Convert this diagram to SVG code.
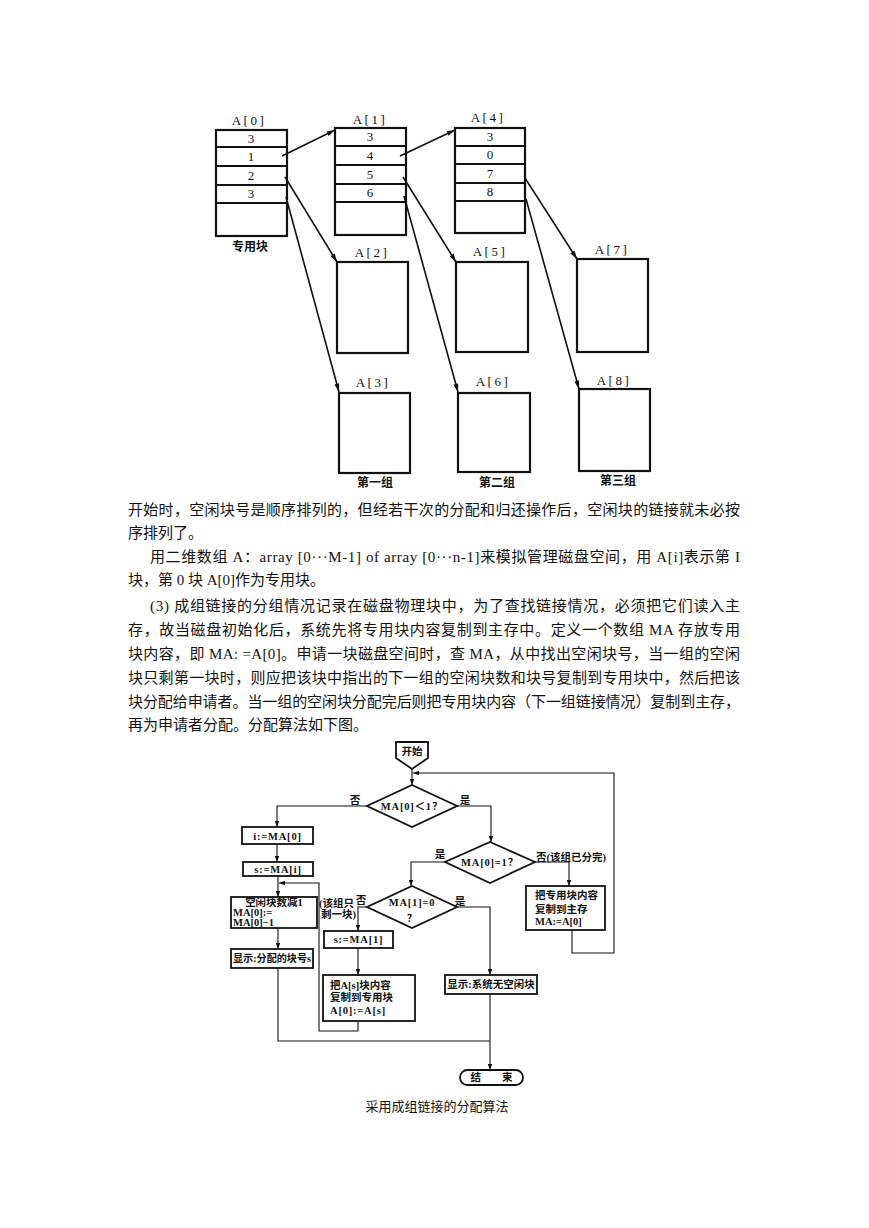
<svg xmlns="http://www.w3.org/2000/svg" width="869" height="1228" viewBox="0 0 869 1228">
<defs>
<marker id="ah" viewBox="0 0 10 6" refX="10" refY="3" markerWidth="9" markerHeight="5" orient="auto" markerUnits="userSpaceOnUse"><path d="M0,0 L10,3 L0,6 Z" fill="#111"/></marker>
<marker id="fa" viewBox="0 0 8 6" refX="8" refY="3" markerWidth="6" markerHeight="4.5" orient="auto" markerUnits="userSpaceOnUse"><path d="M0,0 L8,3 L0,6 Z" fill="#111"/></marker>
<style>
.blk{fill:#fff;stroke:#111;stroke-width:2.2}
.row{stroke:#111;stroke-width:2}
.num{font-family:"Liberation Serif","Noto Sans CJK SC",serif;font-size:13px;fill:#111;text-anchor:middle}
.lbl{font-family:"Liberation Serif","Noto Sans CJK SC",serif;font-size:13px;fill:#111;text-anchor:middle;letter-spacing:2.5px}
.cap{font-family:"Noto Sans CJK SC",sans-serif;font-size:12px;font-weight:bold;fill:#111;text-anchor:middle}
.link{stroke:#111;stroke-width:1.6;fill:none;marker-end:url(#ah)}
.body{font-family:"Liberation Serif","Noto Sans CJK SC",serif;font-size:15px;fill:#111}
.fb{fill:#fff;stroke:#111;stroke-width:1.8}
.fl{stroke:#111;stroke-width:1.1;fill:none}
.fla{stroke:#111;stroke-width:1.1;fill:none;marker-end:url(#fa)}
.ft{font-family:"Liberation Serif","Noto Sans CJK SC",serif;font-size:10.5px;font-weight:bold;fill:#111}
.fc{text-anchor:middle}
.capt{font-family:"Noto Sans CJK SC",sans-serif;font-size:13px;fill:#111;text-anchor:middle}
</style>
</defs>

<!-- top diagram -->
<g id="A0">
<rect class="blk" x="216" y="130" width="71" height="106"/>
<line class="row" x1="216" y1="147" x2="287" y2="147"/>
<line class="row" x1="216" y1="166" x2="287" y2="166"/>
<line class="row" x1="216" y1="185" x2="287" y2="185"/>
<line class="row" x1="216" y1="203" x2="287" y2="203"/>
<text class="num" x="251" y="143">3</text>
<text class="num" x="251" y="161">1</text>
<text class="num" x="251" y="180">2</text>
<text class="num" x="251" y="198">3</text>
<text class="lbl" x="249" y="125">A[0]</text>
<text class="cap" x="250" y="251">专用块</text>
</g>
<g id="A1">
<rect class="blk" x="335" y="128" width="71" height="107"/>
<line class="row" x1="335" y1="146" x2="406" y2="146"/>
<line class="row" x1="335" y1="165" x2="406" y2="165"/>
<line class="row" x1="335" y1="184" x2="406" y2="184"/>
<line class="row" x1="335" y1="202" x2="406" y2="202"/>
<text class="num" x="370" y="141">3</text>
<text class="num" x="370" y="160">4</text>
<text class="num" x="370" y="179">5</text>
<text class="num" x="370" y="197">6</text>
<text class="lbl" x="370" y="124">A[1]</text>
</g>
<g id="A4">
<rect class="blk" x="455" y="128" width="70" height="105"/>
<line class="row" x1="455" y1="146" x2="525" y2="146"/>
<line class="row" x1="455" y1="164" x2="525" y2="164"/>
<line class="row" x1="455" y1="183" x2="525" y2="183"/>
<line class="row" x1="455" y1="201" x2="525" y2="201"/>
<text class="num" x="490" y="141">3</text>
<text class="num" x="490" y="159">0</text>
<text class="num" x="490" y="178">7</text>
<text class="num" x="490" y="196">8</text>
<text class="lbl" x="488" y="122">A[4]</text>
</g>
<g id="A2"><rect class="blk" x="337" y="262" width="71" height="91"/><text class="lbl" x="372" y="257">A[2]</text></g>
<g id="A5"><rect class="blk" x="456" y="262" width="72" height="90"/><text class="lbl" x="490" y="256">A[5]</text></g>
<g id="A7"><rect class="blk" x="577" y="259" width="71" height="93"/><text class="lbl" x="612" y="254">A[7]</text></g>
<g id="A3"><rect class="blk" x="339" y="393" width="71" height="80"/><text class="lbl" x="373" y="387">A[3]</text><text class="cap" x="375" y="487">第一组</text></g>
<g id="A6"><rect class="blk" x="458" y="393" width="72" height="79"/><text class="lbl" x="493" y="386">A[6]</text><text class="cap" x="497" y="487">第二组</text></g>
<g id="A8"><rect class="blk" x="579" y="389" width="71" height="82"/><text class="lbl" x="614" y="385">A[8]</text><text class="cap" x="618" y="485">第三组</text></g>

<g id="links">
<line class="link" x1="282" y1="156" x2="335" y2="130"/>
<line class="link" x1="400" y1="156" x2="455" y2="130"/>
<line class="link" x1="285" y1="177" x2="337" y2="262"/>
<line class="link" x1="286" y1="197" x2="339" y2="392"/>
<line class="link" x1="403" y1="177" x2="456" y2="262"/>
<line class="link" x1="404" y1="196" x2="458" y2="392"/>
<line class="link" x1="525" y1="178" x2="577" y2="259"/>
<line class="link" x1="526" y1="199" x2="579" y2="389"/>
</g>

<!-- body text -->
<g id="paragraphs">
<text class="body" x="128" y="515" textLength="612" lengthAdjust="spacing">开始时，空闲块号是顺序排列的，但经若干次的分配和归还操作后，空闲块的链接就未必按</text>
<text class="body" x="128" y="538">序排列了。</text>
<text class="body" x="150" y="562" textLength="590" lengthAdjust="spacing">用二维数组 A：array [0···M-1] of array [0···n-1]来模拟管理磁盘空间，用 A[i]表示第 I</text>
<text class="body" x="128" y="585">块，第 0 块 A[0]作为专用块。</text>
<text class="body" x="150" y="611" textLength="590" lengthAdjust="spacing">(3) 成组链接的分组情况记录在磁盘物理块中，为了查找链接情况，必须把它们读入主</text>
<text class="body" x="128" y="635" textLength="612" lengthAdjust="spacing">存，故当磁盘初始化后，系统先将专用块内容复制到主存中。定义一个数组 MA 存放专用</text>
<text class="body" x="128" y="659" textLength="612" lengthAdjust="spacing">块内容，即 MA: =A[0]。申请一块磁盘空间时，查 MA，从中找出空闲块号，当一组的空闲</text>
<text class="body" x="128" y="683" textLength="612" lengthAdjust="spacing">块只剩第一块时，则应把该块中指出的下一组的空闲块数和块号复制到专用块中，然后把该</text>
<text class="body" x="128" y="707" textLength="612" lengthAdjust="spacing">块分配给申请者。当一组的空闲块分配完后则把专用块内容（下一组链接情况）复制到主存，</text>
<text class="body" x="128" y="730">再为申请者分配。分配算法如下图。</text>
</g>

<!-- flowchart connectors -->
<g id="connectors">
<line class="fla" x1="412" y1="769" x2="412" y2="785"/>
<polyline class="fla" points="572,930 572,953 614,953 614,773 413,773"/>
<polyline class="fla" points="367,806 277,806 277,827"/>
<polyline class="fla" points="457,806 491,806 491,842"/>
<line class="fla" x1="277" y1="844" x2="277" y2="862"/>
<line class="fla" x1="278" y1="876" x2="278" y2="897"/>
<polyline class="fla" points="358,1021 358,1031 319,1031 319,883 279,883"/>
<line class="fla" x1="278" y1="928" x2="278" y2="949"/>
<polyline class="fl" points="278,968 278,1041 490,1041"/>
<polyline class="fla" points="445,862 411,862 411,886"/>
<polyline class="fla" points="535,862 569,862 569,886"/>
<polyline class="fla" points="367,907 358,907 358,931"/>
<line class="fla" x1="358" y1="948" x2="358" y2="975"/>
<polyline class="fla" points="457,907 490,907 490,975"/>
<line class="fla" x1="490" y1="994" x2="490" y2="1070"/>
</g>

<g id="start"><path class="fb" d="M396,742 H428 V758 L412,769 L396,758 Z"/><text class="ft fc" x="412" y="755">开始</text></g>
<g id="d1"><polygon class="fb" points="412,785 457,806 412,827 367,806"/><text class="ft fc" x="412" y="810" letter-spacing="0.8">MA[0]＜1？</text>
<text class="ft fc" x="355" y="804">否</text><text class="ft fc" x="465" y="804">是</text></g>
<g id="b_i"><rect class="fb" x="242" y="827" width="71" height="17"/><text class="ft fc" x="277.5" y="840" letter-spacing="0.8">i:=MA[0]</text></g>
<g id="b_s"><rect class="fb" x="243" y="862" width="70" height="14"/><text class="ft fc" x="278" y="873" letter-spacing="0.8">s:=MA[i]</text></g>
<g id="b_dec"><rect class="fb" x="231" y="897" width="86" height="31"/>
<text class="ft fc" x="274" y="906" font-size="10">空闲块数减1</text>
<text class="ft" x="233" y="916" font-size="9.5">MA[0]:=</text>
<text class="ft" x="233" y="925.5" font-size="9.5">MA[0]−1</text></g>
<g id="b_show1"><rect class="fb" x="231" y="949" width="82" height="19"/><text class="ft" x="233" y="962" textLength="78" lengthAdjust="spacingAndGlyphs">显示:分配的块号s</text></g>
<g id="d2"><polygon class="fb" points="490,842 535,862 490,883 445,862"/><text class="ft fc" x="490" y="866" letter-spacing="0.8">MA[0]=1？</text>
<text class="ft fc" x="440" y="858">是</text><text class="ft" x="536" y="861">否(该组已分完)</text></g>
<g id="b_copy"><rect class="fb" x="526" y="886" width="79" height="44"/>
<text class="ft" x="535" y="899">把专用块内容</text>
<text class="ft" x="535" y="913">复制到主存</text>
<text class="ft" x="535" y="925">MA:=A[0]</text></g>
<g id="d3"><polygon class="fb" points="412,886 457,907 412,928 367,907"/><text class="ft fc" x="412" y="906" letter-spacing="0.8">MA[1]=0</text><text class="ft fc" x="412" y="922">？</text>
<text class="ft fc" x="361" y="904">否</text><text class="ft fc" x="460" y="905">是</text>
<text class="ft" x="319" y="907" font-size="9.5">(该组只</text><text class="ft" x="321" y="918" font-size="9.5">剩一块)</text></g>
<g id="b_s1"><rect class="fb" x="324" y="931" width="69" height="17"/><text class="ft fc" x="358.5" y="943" letter-spacing="0.8">s:=MA[1]</text></g>
<g id="b_copy2"><rect class="fb" x="323" y="975" width="92" height="46"/>
<text class="ft" x="330" y="989">把A[s]块内容</text>
<text class="ft" x="330" y="1001">复制到专用块</text>
<text class="ft" x="330" y="1014" letter-spacing="0.8">A[0]:=A[s]</text></g>
<g id="b_none"><rect class="fb" x="445" y="975" width="92" height="19"/><text class="ft fc" x="491" y="988">显示:系统无空闲块</text></g>
<g id="end"><rect class="fb" x="460" y="1070" width="63" height="15" rx="7.5"/><text class="ft fc" x="491.5" y="1081">结　　束</text></g>
<text class="capt" x="437" y="1111">采用成组链接的分配算法</text>
</svg>
